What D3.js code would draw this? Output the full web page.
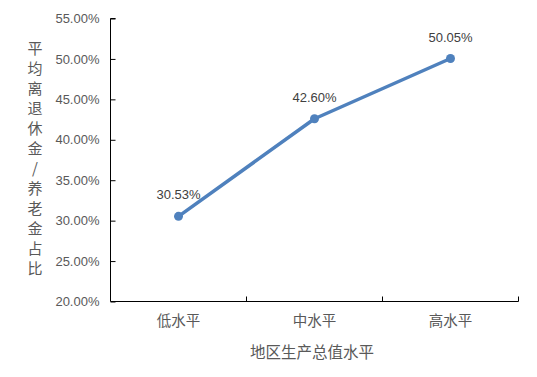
<!DOCTYPE html>
<html><head><meta charset="utf-8">
<script src="https://cdn.jsdelivr.net/npm/d3@7"></script>
<style>
html,body{margin:0;padding:0;background:#fff;}
svg{display:block;}
</style></head>
<body>
<script>
const categories = ["低水平", "中水平", "高水平"];
const values = [30.53, 42.60, 50.05];
const yTicks = [20, 25, 30, 35, 40, 45, 50, 55];
const xTitle = "地区生产总值水平";
const yTitle = "平均离退休金/养老金占比";

const W = 537, H = 377;
const svg = d3.select("body").append("svg").attr("width", W).attr("height", H);

const x = d3.scaleBand().domain(categories).range([110.5, 518.5]);
const y = d3.scaleLinear().domain([20, 55]).range([301.5, 18.5]);

const textColor = "#595959";
const latin = "'Liberation Sans', Arial, sans-serif";
const cjk = "'Noto Sans CJK SC', sans-serif";

// Y axis
const yAxis = d3.axisRight(y).tickValues(yTicks).tickSize(5).tickFormat(d => d.toFixed(2) + "%");
const gy = svg.append("g").attr("transform", "translate(110.5,0)").call(yAxis);
gy.select(".domain").attr("stroke", "#000").attr("d", "M5,18.5H0V301.5");
gy.selectAll(".tick line").attr("stroke", "#000");
gy.selectAll(".tick text").attr("x", -11).attr("text-anchor", "end")
  .attr("fill", textColor).style("font-family", latin).style("font-size", "13px");

// X axis
const gx = svg.append("g").attr("transform", "translate(0,301.5)");
gx.append("line").attr("x1", 110.5).attr("x2", 518.5).attr("stroke", "#000");
const bounds = [...categories.map(c => x(c)), x(categories[categories.length - 1]) + x.bandwidth()];
gx.selectAll("line.tk").data(bounds.slice(1)).join("line").attr("class", "tk")
  .attr("x1", d => d).attr("x2", d => d).attr("y1", 0).attr("y2", -5).attr("stroke", "#000");
gx.selectAll("text").data(categories).join("text")
  .attr("x", d => x(d) + x.bandwidth() / 2).attr("y", 24)
  .attr("text-anchor", "middle").attr("fill", textColor)
  .style("font-family", cjk).style("font-size", "14.5px").text(d => d);

// X title
svg.append("text").attr("x", 312).attr("y", 358).attr("text-anchor", "middle")
  .attr("fill", textColor).style("font-family", cjk).style("font-size", "15.5px").text(xTitle);

// Y title stacked vertically
const yt = svg.append("text").attr("fill", textColor).style("font-family", cjk).style("font-size", "15px")
  .attr("text-anchor", "middle");
Array.from(yTitle).forEach((ch, i) => {
  yt.append("tspan").attr("x", 35).attr("y", 54 + i * 20).text(ch);
});

// line
const pts = categories.map((c, i) => [x(c) + x.bandwidth() / 2, y(values[i])]);
svg.append("path").datum(pts).attr("d", d3.line()).attr("fill", "none")
  .attr("stroke", "#4F81BD").attr("stroke-width", 3.5).attr("stroke-linejoin", "round");
svg.selectAll("circle").data(pts).join("circle")
  .attr("cx", d => d[0]).attr("cy", d => d[1]).attr("r", 4.5).attr("fill", "#4F81BD");

svg.selectAll("text.lbl").data(values).join("text").attr("class", "lbl")
  .attr("x", (d, i) => pts[i][0]).attr("y", (d, i) => pts[i][1] - 17)
  .attr("text-anchor", "middle").attr("fill", "#404040")
  .style("font-family", latin).style("font-size", "13px")
  .text(d => d.toFixed(2) + "%");
</script>
</body></html>
